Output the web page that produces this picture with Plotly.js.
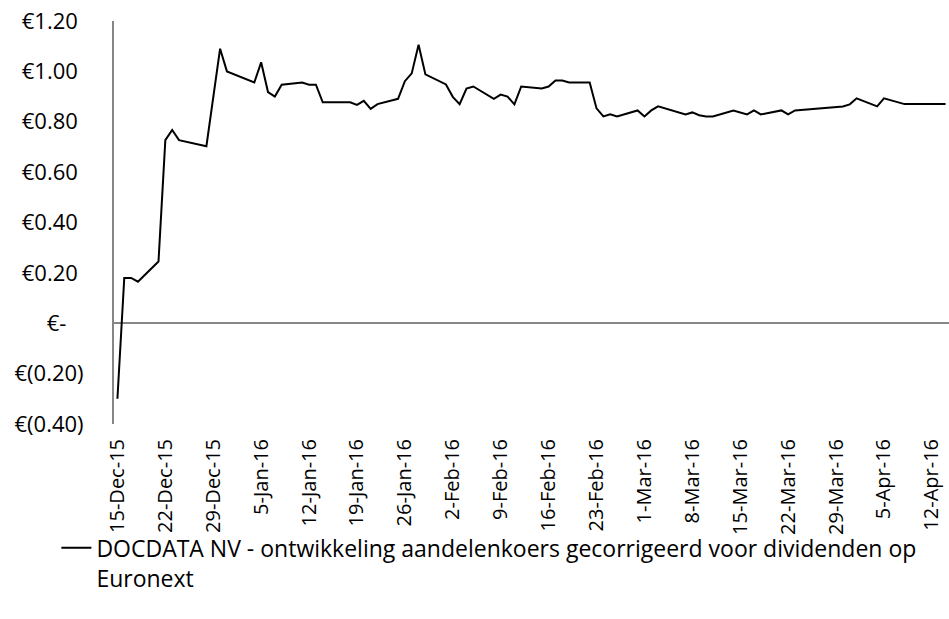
<!DOCTYPE html>
<html>
<head>
<meta charset="utf-8">
<script src="https://cdn.plot.ly/plotly-3.0.1.min.js"></script>
<style>html,body{margin:0;padding:0;background:#fff;}#chart{width:949px;height:619px;}</style>
</head>
<body>
<div id="chart"></div>
<script>
const seriesName = 'DOCDATA NV - ontwikkeling aandelenkoers gecorrigeerd voor dividenden op<br>Euronext';

const dates = ['2015-12-15','2015-12-16','2015-12-17','2015-12-18','2015-12-21','2015-12-22','2015-12-23','2015-12-24','2015-12-28','2015-12-30','2015-12-31',
'2016-01-04','2016-01-05','2016-01-06','2016-01-07','2016-01-08','2016-01-11','2016-01-12','2016-01-13','2016-01-14','2016-01-15','2016-01-18','2016-01-19','2016-01-20','2016-01-21','2016-01-22','2016-01-25','2016-01-26','2016-01-27','2016-01-28','2016-01-29',
'2016-02-01','2016-02-02','2016-02-03','2016-02-04','2016-02-05','2016-02-08','2016-02-09','2016-02-10','2016-02-11','2016-02-12','2016-02-15','2016-02-16','2016-02-17','2016-02-18','2016-02-19','2016-02-22','2016-02-23','2016-02-24','2016-02-25','2016-02-26','2016-02-29',
'2016-03-01','2016-03-02','2016-03-03','2016-03-07','2016-03-08','2016-03-09','2016-03-10','2016-03-11','2016-03-14','2016-03-16','2016-03-17','2016-03-18','2016-03-21','2016-03-22','2016-03-23','2016-03-30','2016-03-31',
'2016-04-01','2016-04-04','2016-04-05','2016-04-08','2016-04-11','2016-04-12','2016-04-13','2016-04-14'];

const prices = [-0.30,0.18,0.18,0.165,0.245,0.727,0.767,0.727,0.703,1.09,1.00,
0.956,1.036,0.918,0.90,0.947,0.956,0.947,0.947,0.877,0.877,0.877,0.867,0.883,0.851,0.87,0.891,0.961,0.992,1.106,0.988,
0.948,0.899,0.87,0.932,0.94,0.891,0.908,0.90,0.869,0.94,0.932,0.94,0.964,0.964,0.956,0.956,0.853,0.821,0.83,0.821,0.845,
0.821,0.845,0.861,0.829,0.837,0.826,0.821,0.821,0.845,0.829,0.845,0.829,0.845,0.829,0.845,0.861,0.869,
0.893,0.861,0.893,0.87,0.87,0.87,0.87,0.87];

const yTickVals = [-0.4,-0.2,0,0.2,0.4,0.6,0.8,1.0,1.2];
const yTickText = ['€(0.40)','€(0.20)','€-\u00A0\u00A0\u00A0','€0.20\u00A0','€0.40\u00A0','€0.60\u00A0','€0.80\u00A0','€1.00\u00A0','€1.20\u00A0'];

const xRange = ['2015-12-14 12:00','2016-04-14 12:00'];
const xTick0 = '2015-12-15';

const FONT = '"Open Sans", sans-serif';

const trace = {
  x: dates, y: prices, type: 'scatter', mode: 'lines', name: seriesName,
  line: {color: '#000000', width: 2}
};

const layout = {
  width: 949, height: 619,
  margin: {l: 114, r: 0, t: 21, b: 195},
  paper_bgcolor: '#ffffff', plot_bgcolor: '#ffffff',
  font: {family: FONT, color: '#000000'},
  showlegend: true,
  xaxis: {
    type: 'date', range: xRange, tick0: xTick0, dtick: 7*86400000,
    tickformat: '%-d-%b-%y', tickangle: -90, showgrid: false, zeroline: false, showline: false,
    ticks: '', ticklabelstandoff: 10,
    tickfont: {family: FONT, size: 20, color: '#000000'}
  },
  yaxis: {
    range: [-0.4, 1.2], tickvals: yTickVals, ticktext: yTickText,
    showgrid: false, zeroline: true, zerolinecolor: '#868686', zerolinewidth: 2,
    showline: true, linecolor: '#868686', linewidth: 2, ticks: '', ticklabelstandoff: 24,
    tickfont: {family: FONT, size: 22, color: '#000000'}
  },
  legend: {
    x: -0.069, xanchor: 'left', y: -0.254, yanchor: 'top', valign: 'top',
    font: {family: FONT, size: 23, color: '#000000'},
    bgcolor: 'rgba(0,0,0,0)', tracegroupgap: 0
  }
};

Plotly.newPlot('chart', [trace], layout, {displayModeBar: false, staticPlot: true});
</script>
</body>
</html>
